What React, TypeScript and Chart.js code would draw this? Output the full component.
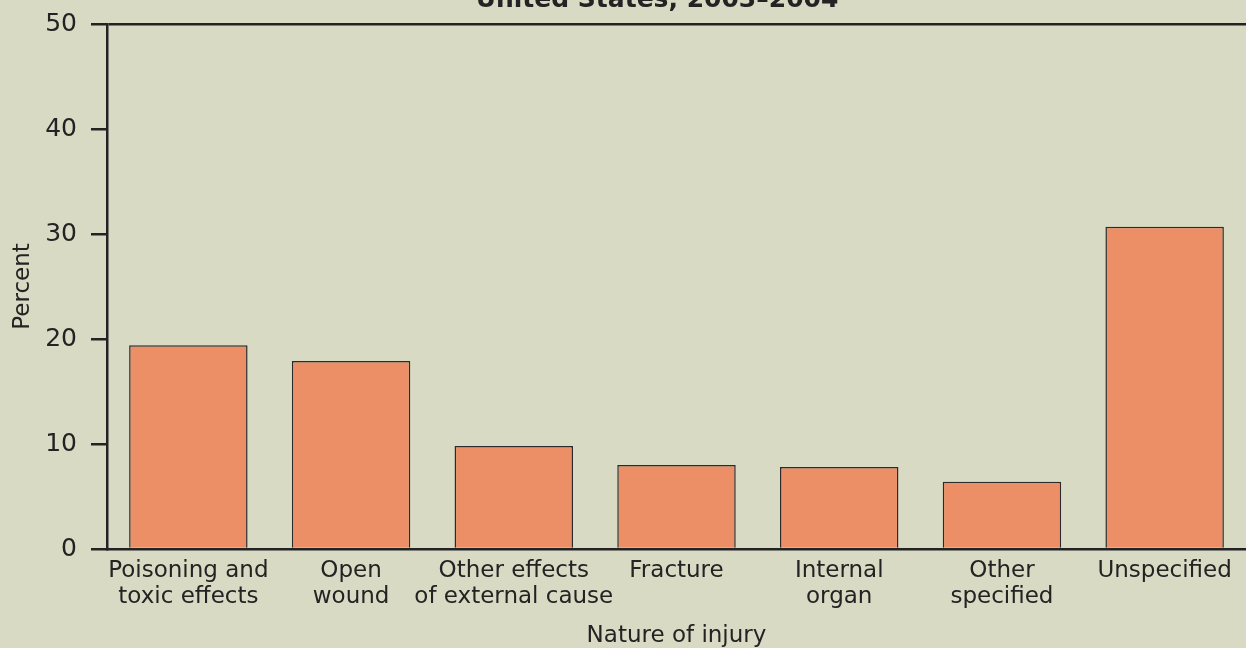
import React, { useEffect, useRef } from "react";
import { Chart, registerables } from "chart.js";

Chart.register(...registerables);

const categories: string[][] = [
  ["Poisoning and", "toxic effects"],
  ["Open", "wound"],
  ["Other effects", "of external cause"],
  ["Fracture"],
  ["Internal", "organ"],
  ["Other", "specified"],
  ["Unspecified"],
];
const percentValues: number[] = [19.4, 17.9, 9.8, 8.0, 7.8, 6.4, 30.7];
const yTickValues: number[] = [0, 10, 20, 30, 40, 50];
const titleText = "United States, 2003\u20132004";
const xAxisTitle = "Nature of injury";
const yAxisTitle = "Percent";

const BG = "#D9DAC4";
const BAR = "#EC8F66";
const INK = "#232323";
const FONT = "'DejaVu Sans', sans-serif";

export default function App() {
  const ref = useRef<HTMLCanvasElement | null>(null);

  useEffect(() => {
    document.body.style.background = BG;
    const canvas = ref.current;
    if (!canvas) return;

    const titlePlugin = {
      id: "topTitle",
      afterDraw(chart: any) {
        const ctx = chart.ctx;
        ctx.save();
        ctx.fillStyle = INK;
        ctx.font = `bold 25px ${FONT}`;
        ctx.textAlign = "center";
        ctx.textBaseline = "alphabetic";
        ctx.fillText(titleText, 657, 7);
        ctx.restore();
      },
    };

    const chart = new Chart(canvas, {
      type: "bar",
      data: {
        labels: categories,
        datasets: [
          {
            data: percentValues,
            backgroundColor: BAR,
            borderColor: "#2b2b2b",
            borderWidth: 1.5,
            borderSkipped: "start",
            categoryPercentage: 1,
            barPercentage: 0.728,
          },
        ],
      },
      options: {
        responsive: false,
        animation: false,
        devicePixelRatio: 1,
        layout: { padding: { top: 21.5, left: 0, right: -2, bottom: 0 } },
        plugins: {
          legend: { display: false },
          tooltip: { enabled: false },
          title: { display: false },
        },
        scales: {
          x: {
            position: "bottom",
            grid: { display: false, drawTicks: false },
            border: { display: true, color: INK, width: 2.5 },
            ticks: {
              color: INK,
              font: { family: FONT, size: 23, lineHeight: 1.13 },
              padding: 9,
              maxRotation: 0,
              autoSkip: false,
            },
            title: {
              display: true,
              text: xAxisTitle,
              color: INK,
              font: { family: FONT, size: 23 },
              padding: { top: 0, bottom: -2 },
            },
            afterFit(scale: any) {
              scale.height = 99;
            },
          },
          y: {
            position: "left",
            min: 0,
            max: 50,
            afterBuildTicks(scale: any) {
              scale.ticks = yTickValues.map((v) => ({ value: v }));
            },
            grid: {
              drawOnChartArea: true,
              drawTicks: true,
              tickLength: 16,
              lineWidth: 2.5,
              tickColor: INK,
              color: (c: any) => (c.tick && c.tick.value === 50 ? INK : "rgba(0,0,0,0)"),
            },
            border: { display: true, color: INK, width: 2.5 },
            ticks: {
              color: INK,
              font: { family: FONT, size: 25, lineHeight: 0.8 },
              padding: 14,
            },
            title: {
              display: true,
              text: yAxisTitle,
              color: INK,
              font: { family: FONT, size: 23 },
              padding: { top: 9, bottom: 0 },
            },
            afterFit(scale: any) {
              scale.width = 107;
            },
          },
        },
      },
      plugins: [titlePlugin],
    });

    return () => chart.destroy();
  }, []);

  return (
    <div
      style={{
        position: "absolute",
        left: 0,
        top: 0,
        width: 1246,
        height: 648,
        background: BG,
        overflow: "hidden",
      }}
    >
      <canvas ref={ref} width={1246} height={648} style={{ display: "block" }} />
    </div>
  );
}
